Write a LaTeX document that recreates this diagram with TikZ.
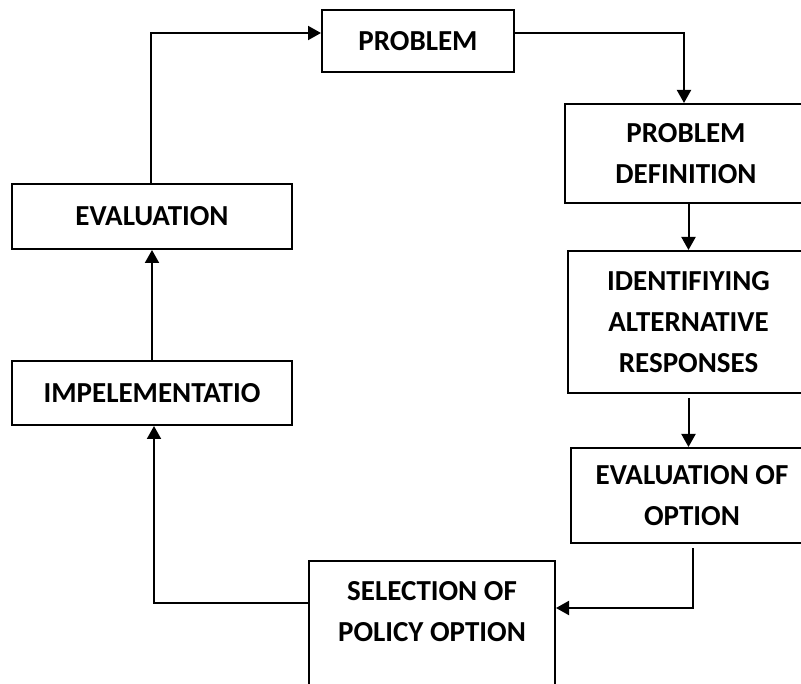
\documentclass[tikz,border=0pt]{standalone}
\usepackage{fontspec}
\setmainfont{Carlito}
\usetikzlibrary{arrows.meta,calc}
\begin{document}
\begin{tikzpicture}[x=1pt,y=-1pt,
  box/.style={draw=black,line width=2pt,rectangle,align=center,inner sep=0pt,
    font=\fontsize{29}{41}\selectfont\bfseries},
  lbl/.style={align=center,inner sep=0pt,font=\fontsize{29}{41}\selectfont\bfseries},
  arr/.style={draw=black,line width=2pt,-{Triangle[length=13pt,width=14pt]}},
  ln/.style={draw=black,line width=2pt}]
\useasboundingbox (0,0) rectangle (801,684);
\clip (0,0) rectangle (801,684);
\node[box,minimum width=192pt,minimum height=62pt] (prob) at (418,41) {PROBLEM};
\node[box,minimum width=242pt,minimum height=99pt] (pd) at (686,153.5) {PROBLEM\\DEFINITION};
\node[box,minimum width=241pt,minimum height=142pt] (iar) at (688.5,322) {IDENTIFIYING\\ALTERNATIVE\\RESPONSES};
\node[box,minimum width=242pt,minimum height=95pt] (eo) at (692,495.5) {EVALUATION OF\\OPTION};
\node[box,minimum width=246pt,minimum height=160pt] (spo) at (432,641) {};
\node[lbl] (spot) at (432,611.5) {SELECTION OF\\POLICY OPTION};
\node[box,minimum width=280pt,minimum height=64pt] (impl) at (152,393) {IMPELEMENTATIO};
\node[box,minimum width=280pt,minimum height=65pt] (eval) at (152,216.5) {EVALUATION};
\draw[arr] ($(eval.north)+(-1,0)$) |- ($(prob.west)+(0,-8)$);
\draw[arr] ($(prob.east)+(0,-8)$) -| ($(pd.north)+(-2,0)$);
\draw[arr] (iar.north |- pd.south) -- (iar.north);
\draw[arr] ($(iar.south)+(0,4)$) -- (iar.south |- eo.north);
\draw[arr] ($(eo.south)+(1,4)$) |- ($(spo.north east)+(0,48)$);
\draw[arr] ($(spo.north west)+(0,43)$) -| ($(impl.south)+(2,0)$);
\draw[arr] (impl.north) -- (eval.south);
\end{tikzpicture}
\end{document}
